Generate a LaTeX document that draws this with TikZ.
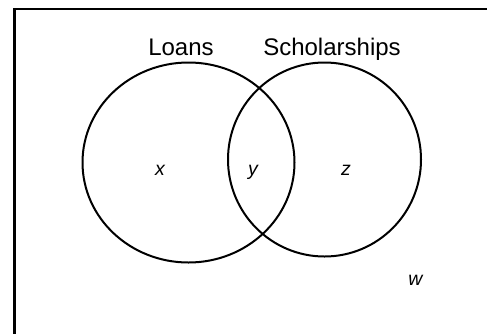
\documentclass[tikz,border=0pt]{standalone}
\usepackage{fontspec}
\setmainfont{Liberation Sans}
\usepackage{tikz}
\usetikzlibrary{shapes.geometric,positioning}

\begin{document}
\begin{tikzpicture}[
  x=1pt, y=-1pt,
  set/.style={draw,ellipse,line width=2pt,inner sep=0pt},
  setname/.style={anchor=base,font=\fontsize{24}{28}\selectfont},
  region/.style={anchor=base,font=\fontsize{19.5}{22}\selectfont\itshape},
]
\useasboundingbox (0,0) rectangle (487,333);
% universe frame (only left and top edges visible)
\coordinate (ul) at (14.5,9);
\draw[line width=2.5pt] (14.5,340) -- (ul) -- (495,9);
% the two sets
\node[set,minimum width=212pt,minimum height=200pt] (loans) at (188.5,162.5) {};
\node[set,minimum width=193pt,minimum height=194pt] (schol) at (324.5,159.5) {};
\node[setname] (lname) at (181,55) {Loans};
\node[setname] (sname) at (332,55) {Scholarships};
% regions
\node[region] (rx) at (160,175) {x};
\node[region] (ry) at (253,175) {y};
\node[region] (rz) at (346,175) {z};
\node[region] (rw) at (415.5,285) {w};
\end{tikzpicture}
\end{document}
